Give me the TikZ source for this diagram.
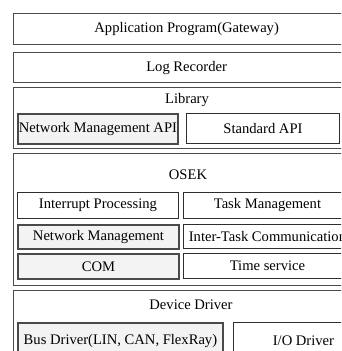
\documentclass[tikz,border=0pt]{standalone}
\usepackage{fontspec}
\setmainfont{Liberation Serif}
\usetikzlibrary{positioning}
\definecolor{edgegray}{HTML}{4A4A4A}
\definecolor{cellgray}{HTML}{2E2E2E}
\definecolor{shadegray}{HTML}{F3F3F3}

\begin{document}
\begin{tikzpicture}[
    x=1pt, y=-1pt,
    every node/.style={font=\fontsize{14.6}{17}\selectfont, inner sep=0pt},
    layer/.style={rectangle, draw=edgegray, line width=1.3pt, anchor=north west, minimum width=346pt},
    cell/.style={rectangle, draw=cellgray, line width=0.9pt, anchor=north west, align=center},
    keycell/.style={cell, draw=edgegray, line width=1.9pt, fill=shadegray},
    caption/.style={anchor=center}
]
\useasboundingbox (0,0) rectangle (341,351);
\clip (0,0) rectangle (341,351);

\node[layer, minimum height=31pt] (app) at (13,13) {Application Program(Gateway)};
\node[layer, minimum height=30pt] (log) at (13,52) {Log Recorder};

% library
\node[layer, minimum height=61pt] (lib) at (13,87) {};
\node[caption] (libtitle) at (187,100) {Library};
\node[keycell, minimum width=160pt, minimum height=30pt] (nmapi) at (17,113) {Network Management API};
\node[cell, minimum width=153pt, minimum height=30pt] (stdapi) at (186,113) {Standard API};

% osek
\node[layer, minimum height=132pt] (osek) at (13,153) {};
\node[caption] (osektitle) at (188,175) {OSEK};
\node[cell, minimum width=161pt, minimum height=26pt] (intr) at (17,192) {Interrupt Processing};
\node[cell, minimum width=168pt, minimum height=26pt] (task) at (183,192) {Task Management};
\node[keycell, minimum width=161pt, minimum height=24pt] (nm) at (17,224) {Network Management};
\node[cell, minimum width=168pt, minimum height=24pt] (itc) at (183,224) {Inter-Task Communication};
\node[keycell, minimum width=161pt, minimum height=25pt] (com) at (17,253) {COM};
\node[cell, minimum width=168pt, minimum height=25pt] (time) at (183,253) {Time service};

% device driver
\node[layer, minimum height=70pt] (dev) at (13,290) {};
\node[caption] (devtitle) at (191,305) {Device Driver};
\node[keycell, minimum width=205pt, minimum height=36pt] (bus) at (17,322) {Bus Driver(LIN, CAN, FlexRay)};
\node[cell, minimum width=140pt, minimum height=36pt] (io) at (233,322) {I/O Driver};
\end{tikzpicture}
\end{document}
